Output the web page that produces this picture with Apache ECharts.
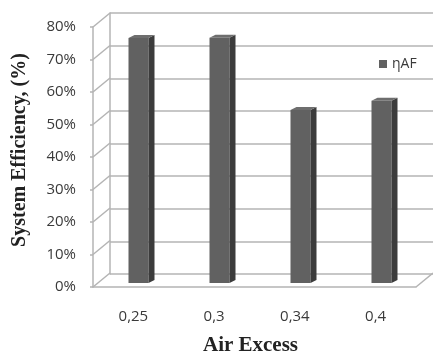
<!DOCTYPE html>
<html>
<head>
<meta charset="utf-8">
<script src="https://cdn.jsdelivr.net/npm/echarts@6/dist/echarts.min.js"></script>
<style>
html,body{margin:0;padding:0;background:#fff;}
#chart{width:433px;height:356px;}
</style>
</head>
<body>
<div id="chart"></div>
<script>
// 数据
var categories = ['0,25', '0,3', '0,34', '0,4'];
var efficiency = [74.5, 74.6, 52.6, 55.4];
var yTicks = [0, 10, 20, 30, 40, 50, 60, 70, 80];
var seriesName = 'ηAF';

var gridColor = '#b4b4b4';
var labelColor = '#3a3a3a';
var dx = 17, dy = -14;   // 透视偏移

var chart = echarts.init(document.getElementById('chart'));

// 3D柱子
function renderBar(params, api) {
	var v = api.value(1);
	var top = api.coord([api.value(0), v]);
	var bottom = api.coord([api.value(0), 0]);
	var w = 20, sx = 6, sy = -3;
	var x0 = top[0] - w / 2 - 3;
	var x1 = x0 + w;
	return {
		type: 'group',
		children: [
			{type: 'rect', shape: {x: x0, y: top[1], width: w, height: bottom[1] - top[1]},
				style: {fill: '#616161'}},
			{type: 'polygon', shape: {points: [[x1, top[1]], [x1 + sx, top[1] + sy], [x1 + sx, bottom[1] + sy], [x1, bottom[1]]]},
				style: {fill: '#3c3c3c'}},
			{type: 'polygon', shape: {points: [[x0, top[1]], [x0 + sx, top[1] + sy], [x1 + sx, top[1] + sy], [x1, top[1]]]},
				style: {fill: '#6e6e6e'}}
		]
	};
}

// 侧面斜线
function renderDiag(params, api) {
	var v = api.value(0);
	var p = api.coord([0, v]);
	var left = params.coordSys.x;
	var children = [
		{type: 'line', shape: {x1: left, y1: p[1], x2: left + dx, y2: p[1] + dy},
			style: {stroke: gridColor, lineWidth: 1.5}}
	];
	if (v === 0) {
		var right = params.coordSys.x + params.coordSys.width;
		children.push({type: 'line', shape: {x1: right, y1: p[1], x2: right + dx, y2: p[1] + dy},
			style: {stroke: gridColor, lineWidth: 1.5}});
	}
	return {type: 'group', children: children};
}

var option = {
	animation: false,
	backgroundColor: '#fff',
	grid: [
		{left: 93, right: 17, top: 27, bottom: 69, outerBoundsMode: 'none', containLabel: false},
		{left: 110, right: 0, top: 13, bottom: 82, outerBoundsMode: 'none', containLabel: false},
		{left: 101, right: 8, top: 20, bottom: 73, outerBoundsMode: 'none', containLabel: false}
	],
	legend: {
		data: [{name: seriesName, icon: 'rect'}],
		left: 374, top: 52,
		itemWidth: 8, itemHeight: 8, itemGap: 6,
		textStyle: {fontFamily: 'Open Sans', fontSize: 14, color: labelColor}
	},
	xAxis: [
		{type: 'category', gridIndex: 0, data: categories,
			axisLine: {show: true, lineStyle: {color: gridColor, width: 1.5}},
			axisTick: {show: false},
			axisLabel: {margin: 22, fontFamily: 'Open Sans', fontSize: 15, color: labelColor},
			name: 'Air Excess', nameLocation: 'middle', nameGap: 48,
			nameTextStyle: {fontFamily: 'Liberation Serif', fontWeight: 'bold', fontSize: 21, color: '#222', padding: [0, 8, 0, 0]}},
		{type: 'category', gridIndex: 1, data: categories, show: false},
		{type: 'category', gridIndex: 2, data: categories, show: false}
	],
	yAxis: [
		{type: 'value', gridIndex: 0, min: 0, max: 80, interval: 10,
			axisLine: {show: true, lineStyle: {color: gridColor, width: 1.5}},
			axisTick: {show: true, length: 3, lineStyle: {color: gridColor, width: 1.5}},
			splitLine: {show: false},
			axisLabel: {margin: 17, formatter: '{value}%', fontFamily: 'Open Sans', fontSize: 15, color: labelColor},
			name: 'System Efficiency, (%)', nameLocation: 'middle', nameGap: 63,
			nameTextStyle: {fontFamily: 'Liberation Serif', fontWeight: 'bold', fontSize: 20, color: '#222', padding: [0, 0, 0, 14]}},
		{type: 'value', gridIndex: 1, min: 0, max: 80, interval: 10,
			axisLine: {show: true, lineStyle: {color: gridColor, width: 1.5}},
			axisTick: {show: false}, axisLabel: {show: false},
			splitLine: {show: true, lineStyle: {color: gridColor, width: 1.5}}},
		{type: 'value', gridIndex: 2, min: 0, max: 80, show: false, splitLine: {show: false}}
	],
	series: [
		{type: 'custom', name: 'diag', xAxisIndex: 0, yAxisIndex: 0, renderItem: renderDiag,
			data: yTicks.map(function (t) { return [t]; }), encode: {y: 0}, silent: true, z: 1},
		{type: 'custom', name: seriesName, xAxisIndex: 2, yAxisIndex: 2, renderItem: renderBar,
			itemStyle: {color: '#616161'},
			data: efficiency.map(function (v, i) { return [i, v]; }), encode: {x: 0, y: 1}, z: 5}
	]
};
chart.setOption(option);
</script>
</body>
</html>
